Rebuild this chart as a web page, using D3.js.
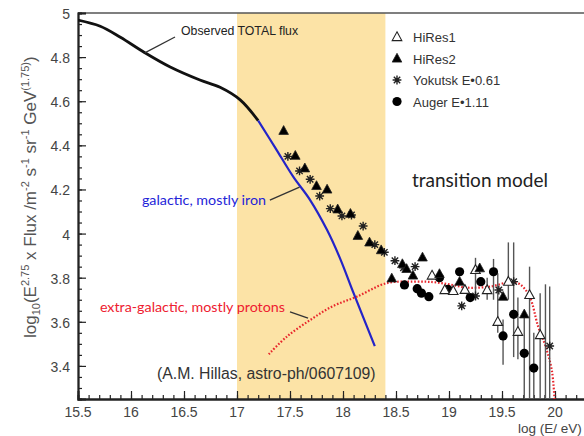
<!DOCTYPE html>
<html>
<head>
<meta charset="utf-8">
<script src="https://cdn.jsdelivr.net/npm/d3@7"></script>
<style>
  body { margin: 0; background: #fff; }
  svg { display: block; }
  .tick-label { font-family: "Liberation Sans", Arial, sans-serif; font-size: 14px; fill: #444; }
  .legend-text { font-family: "Liberation Sans", Arial, sans-serif; font-size: 13px; fill: #333; }
  .note { font-family: Lato, "Noto Sans", sans-serif; }
</style>
</head>
<body>
<div id="main"></div>
<script>

// ---- data (x = log E/eV, y = log10(E^2.75 x Flux)) ----
var xTicks = [15.5, 16, 16.5, 17, 17.5, 18, 18.5, 19, 19.5, 20];
var yTicks = [3.4, 3.6, 3.8, 4, 4.2, 4.4, 4.6, 4.8, 5];
var bandRange = [17, 18.4];

var observedX = [15.5, 15.71, 15.9, 16.13, 16.37, 16.65, 16.84, 17.03, 17.2];
var observedY = [4.968, 4.94, 4.89, 4.82, 4.755, 4.696, 4.663, 4.606, 4.512];

var galacticX = [17.2, 17.36, 17.53, 17.69, 17.85, 17.97, 18.1, 18.3];
var galacticY = [4.512, 4.39, 4.258, 4.152, 4.016, 3.89, 3.73, 3.49];

var extraX = [17.3, 17.47, 17.69, 17.9, 18.13, 18.41, 18.66, 18.85, 19.0, 19.17, 19.39, 19.58, 19.67, 19.76, 19.84, 19.91, 19.97, 19.995];
var extraY = [3.453, 3.533, 3.608, 3.67, 3.714, 3.775, 3.782, 3.78, 3.77, 3.755, 3.76, 3.78, 3.77, 3.715, 3.58, 3.49, 3.38, 3.25];

var hires1 = [[18.84, 3.81], [18.96, 3.744], [19.04, 3.74], [19.15, 3.745], [19.25, 3.835], [19.36, 3.744],
    [19.46, 3.6], [19.56, 3.782], [19.65, 3.555], [19.76, 3.722], [19.86, 3.54]];
var hires2 = [[17.44, 4.466], [17.55, 4.353], [17.64, 4.296], [17.75, 4.216], [17.85, 4.2], [17.95, 4.11],
    [18.07, 4.09], [18.14, 3.99], [18.25, 3.96], [18.36, 3.925], [18.46, 3.797], [18.56, 3.862], [18.6, 3.84],
    [18.66, 3.81], [18.75, 3.892], [18.91, 3.817], [19.1, 3.782], [19.29, 3.843], [19.51, 3.714], [19.71, 3.634]];
var yakutsk = [[17.48, 4.35], [17.59, 4.284], [17.69, 4.246], [17.78, 4.17], [17.88, 4.113], [17.99, 4.08],
    [18.08, 4.084], [18.19, 4.034], [18.3, 3.95], [18.39, 3.915], [18.49, 3.877], [18.57, 3.845], [18.68, 3.85],
    [19.12, 3.672], [19.25, 3.717], [19.47, 3.744], [19.61, 3.782], [19.95, 3.49]];
var auger = [[18.58, 3.767], [18.7, 3.75], [18.74, 3.73], [18.81, 3.714], [18.91, 3.8], [18.99, 3.747],
    [19.1, 3.827], [19.2, 3.71], [19.3, 3.782], [19.42, 3.827], [19.51, 3.536], [19.61, 3.634], [19.71, 3.457], [19.8, 3.39]];

// error bars: [x, low, high]
var errorBars = [[19.25, 3.7, 3.89], [19.36, 3.7, 3.8], [19.42, 3.7, 3.885], [19.46, 3.55, 3.82],
    [19.51, 3.405, 3.61], [19.56, 3.7, 3.96], [19.61, 3.44, 3.96], [19.65, 3.43, 3.71], [19.71, 3.2, 3.62],
    [19.76, 3.2, 3.85], [19.8, 3.2, 3.55], [19.86, 3.2, 3.73], [19.91, 3.2, 3.77], [19.95, 3.2, 3.76]];

var legendNames = ["HiRes1", "HiRes2", "Yokutsk E\u20220.61", "Auger E\u20221.11"];
var legendKinds = ["open", "tri", "star", "dot"];

// ---- layout ----
var width = 584, height = 436;
var plot = { left: 78, right: 608, top: 13, bottom: 399 };

var svg = d3.select("#main")
    .append("svg")
    .attr("width", width)
    .attr("height", height);

var xScale = d3.scaleLinear().domain([15.5, 20.5]).range([plot.left, plot.right]);
var yScale = d3.scaleLinear().domain([3.25, 5]).range([plot.bottom, plot.top]);

svg.append("clipPath").attr("id", "clip")
    .append("rect")
    .attr("x", plot.left).attr("y", plot.top)
    .attr("width", plot.right - plot.left).attr("height", plot.bottom - plot.top);

// shaded transition band
svg.append("rect")
    .attr("x", xScale(bandRange[0]))
    .attr("y", plot.top)
    .attr("width", xScale(bandRange[1]) - xScale(bandRange[0]))
    .attr("height", plot.bottom - plot.top)
    .style("fill", "#fce3a6");

// frame top line
svg.append("line")
    .attr("x1", plot.left).attr("x2", plot.right)
    .attr("y1", plot.top).attr("y2", plot.top)
    .style("stroke", "#555").style("stroke-width", 1.5);

// axes with inward ticks
var xMinor = d3.range(15.5, 20.5001, 0.1);
var yMinor = d3.range(3.25, 5.0001, 0.05);

var xAxis = svg.append("g").attr("transform", "translate(0," + plot.bottom + ")");
xAxis.call(d3.axisBottom(xScale).tickValues(xMinor).tickSize(-4).tickFormat(""));
xAxis.append("g").call(d3.axisBottom(xScale).tickValues(xTicks).tickSize(-8).tickFormat(""));
xAxis.selectAll("path").style("stroke", "#222").style("stroke-width", 1.8);
xAxis.selectAll("line").style("stroke", "#222").style("stroke-width", 1.2);

var yAxis = svg.append("g").attr("transform", "translate(" + plot.left + ",0)");
yAxis.call(d3.axisLeft(yScale).tickValues(yMinor).tickSize(-4).tickFormat(""));
yAxis.append("g").call(d3.axisLeft(yScale).tickValues(yTicks).tickSize(-8).tickFormat(""));
yAxis.selectAll("path").style("stroke", "#222").style("stroke-width", 1.8);
yAxis.selectAll("line").style("stroke", "#222").style("stroke-width", 1.2);

// tick labels
svg.selectAll(".x-label").data(xTicks).enter()
    .append("text").attr("class", "tick-label")
    .attr("x", function (d) { return xScale(d); })
    .attr("y", 417)
    .attr("text-anchor", "middle")
    .text(function (d) { return d; });

svg.selectAll(".y-label").data(yTicks).enter()
    .append("text").attr("class", "tick-label")
    .attr("x", 70)
    .attr("y", function (d) { return yScale(d) + 6; })
    .attr("text-anchor", "end")
    .text(function (d) { return d; });

// axis titles
svg.append("text").attr("class", "tick-label")
    .attr("x", 518).attr("y", 433)
    .style("font-size", "13.5px")
    .text("log (E/ eV)");

var yTitle = svg.append("text").attr("class", "tick-label")
    .attr("transform", "translate(36,338) rotate(-90)")
    .style("font-size", "17px").style("fill", "#555");
var yParts = [["log", 0], ["10", -1], ["(E", 0], ["2.75", 1], [" x Flux /m", 0], ["-2", 1], [" s", 0], ["-1", 1],
    [" sr", 0], ["-1", 1], [" GeV", 0], ["(1.75)", 1], [")", 0]];
// each tspan shifts relative to the previous one's baseline
yParts.forEach(function (p, i) {
    var t = yTitle.append("tspan").text(p[0]);
    var prev = i > 0 ? yParts[i - 1][1] : 0;
    var off = (p[1] > 0 ? -7 : p[1] < 0 ? 4 : 0) - (prev > 0 ? -7 : prev < 0 ? 4 : 0);
    t.attr("dy", off);
    if (p[1] !== 0) t.style("font-size", "11px");
});

// curves
var plotArea = svg.append("g").attr("clip-path", "url(#clip)");
var line = d3.line()
    .x(function (d) { return xScale(d[0]); })
    .y(function (d) { return yScale(d[1]); })
    .curve(d3.curveCatmullRom);

plotArea.append("path")
    .attr("d", line(d3.zip(observedX, observedY)))
    .style("fill", "none").style("stroke", "#111").style("stroke-width", 2.8);

plotArea.append("path")
    .attr("d", line(d3.zip(galacticX, galacticY)))
    .style("fill", "none").style("stroke", "#2424c8").style("stroke-width", 2.2);

plotArea.append("path")
    .attr("d", line(d3.zip(extraX, extraY)))
    .style("fill", "none").style("stroke", "#e8262c").style("stroke-width", 2.2)
    .style("stroke-dasharray", "1.6,1.8");

// error bars
plotArea.selectAll(".err").data(errorBars).enter()
    .append("line")
    .attr("x1", function (d) { return xScale(d[0]); })
    .attr("x2", function (d) { return xScale(d[0]); })
    .attr("y1", function (d) { return yScale(d[1]); })
    .attr("y2", function (d) { return yScale(d[2]); })
    .style("stroke", "#555").style("stroke-width", 1.4);

// markers
function drawMarker(g, kind, x, y) {
    if (kind === "open" || kind === "tri") {
        g.append("path")
            .attr("d", "M" + x + "," + (y - 5.2) + "L" + (x + 4.8) + "," + (y + 3.6) + "L" + (x - 4.8) + "," + (y + 3.6) + "Z")
            .style("fill", kind === "tri" ? "#000" : "#fff")
            .style("stroke", "#222").style("stroke-width", kind === "tri" ? 0.8 : 1.1);
    } else if (kind === "dot") {
        g.append("circle").attr("cx", x).attr("cy", y).attr("r", 4.6).style("fill", "#000");
    } else {
        var r = 4.4, q = 3.2;
        g.append("path")
            .attr("d", "M" + (x - r) + "," + y + "L" + (x + r) + "," + y +
                "M" + x + "," + (y - r) + "L" + x + "," + (y + r) +
                "M" + (x - q) + "," + (y - q) + "L" + (x + q) + "," + (y + q) +
                "M" + (x - q) + "," + (y + q) + "L" + (x + q) + "," + (y - q))
            .style("stroke", "#222").style("stroke-width", 1.4);
        g.append("rect").attr("x", x - 1.5).attr("y", y - 1.5).attr("width", 3).attr("height", 3).style("fill", "#222");
    }
}

var pointsG = plotArea.append("g");
[[yakutsk, "star"], [auger, "dot"], [hires1, "open"], [hires2, "tri"]].forEach(function (s) {
    s[0].forEach(function (d) {
        drawMarker(pointsG, s[1], xScale(d[0]), yScale(d[1]));
    });
});

// legend
var legendY = [37, 58.5, 80, 101.5];
legendNames.forEach(function (name, i) {
    drawMarker(svg, legendKinds[i], 397, legendY[i]);
    svg.append("text").attr("class", "legend-text")
        .attr("x", 413).attr("y", legendY[i] + 5)
        .text(name);
});

// annotations
var leader = [
    [[16.13, 4.819], [16.415, 4.891]],
    [[17.31, 4.152], [17.59, 4.211]],
    [[17.5, 3.645], [17.67, 3.617]]
];
leader.forEach(function (l) {
    svg.append("line")
        .attr("x1", xScale(l[0][0])).attr("y1", yScale(l[0][1]))
        .attr("x2", xScale(l[1][0])).attr("y2", yScale(l[1][1]))
        .style("stroke", "#333").style("stroke-width", 1.3);
});

svg.append("text")
    .attr("x", 181).attr("y", 35)
    .style("font-family", "Liberation Sans, Arial, sans-serif").style("font-size", "12.3px").style("fill", "#222")
    .text("Observed TOTAL flux");

svg.append("text").attr("class", "note")
    .attr("x", 266).attr("y", 205).attr("text-anchor", "end")
    .style("font-size", "14.3px").style("fill", "#2424d8")
    .text("galactic, mostly iron");

svg.append("text").attr("class", "note")
    .attr("x", 285).attr("y", 312).attr("text-anchor", "end")
    .style("font-size", "14.3px").style("fill", "#ee2030")
    .text("extra-galactic, mostly protons");

svg.append("text")
    .attr("x", 157).attr("y", 379)
    .style("font-family", "Liberation Sans, Arial, sans-serif").style("font-size", "15.8px").style("fill", "#333")
    .text("(A.M. Hillas, astro-ph/0607109)");

svg.append("text").attr("class", "note")
    .attr("x", 412).attr("y", 187)
    .style("font-size", "19px").style("fill", "#222")
    .text("transition model");

</script>
</body>
</html>
